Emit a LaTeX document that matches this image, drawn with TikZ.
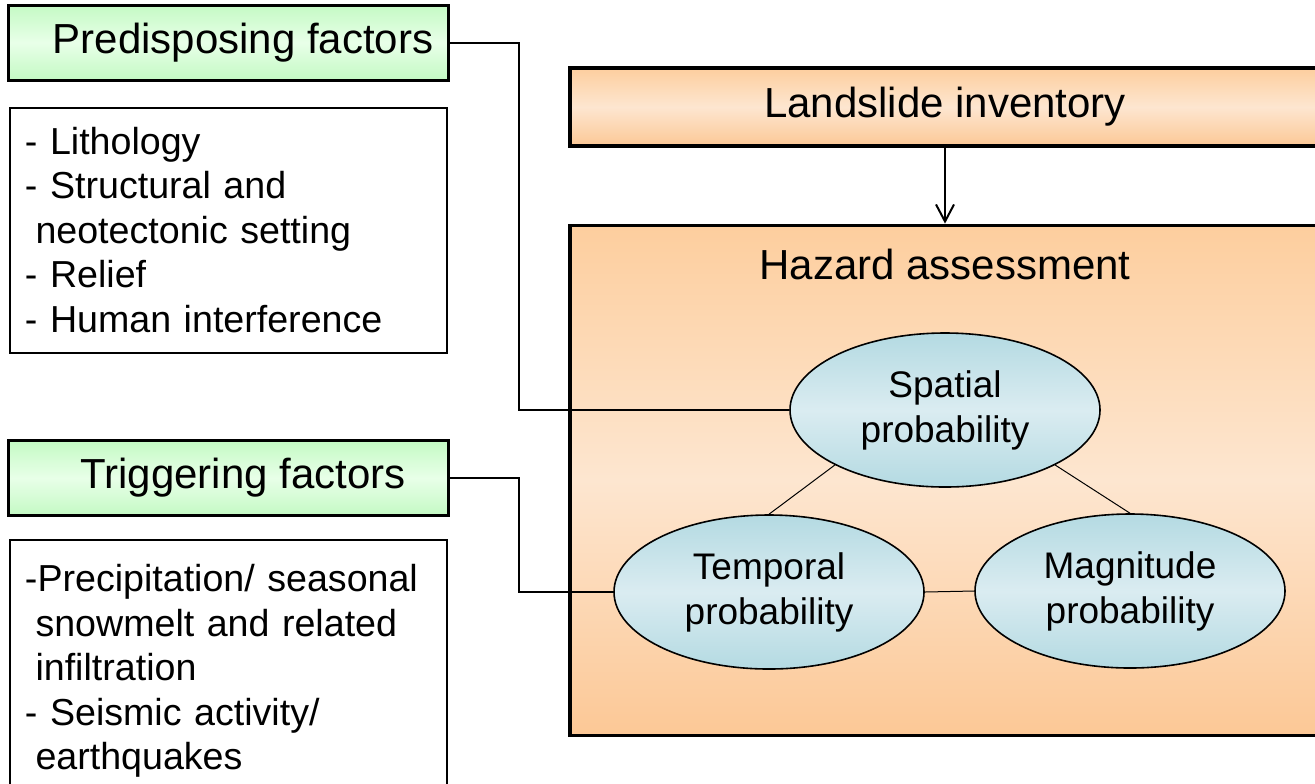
\documentclass[tikz,border=0pt]{standalone}
\usepackage{fontspec}
\setmainfont{Liberation Sans}
\usetikzlibrary{arrows.meta,positioning,shapes.geometric}
\definecolor{grnTop}{RGB}{196,250,196}
\definecolor{grnMid}{RGB}{232,255,232}
\definecolor{orgTop}{RGB}{253,206,158}
\definecolor{orgMid}{RGB}{253,230,208}
\definecolor{orgBot}{RGB}{252,200,150}
\definecolor{ellTop}{RGB}{180,218,226}
\definecolor{ellMid}{RGB}{218,236,241}

\begin{document}
\begin{tikzpicture}[
    x=0.5pt, y=-0.5pt,
    titlebox/.style={draw, line width=1.5pt, top color=grnTop, bottom color=grnTop, middle color=grnMid, minimum width=220pt, minimum height=37.5pt, font=\fontsize{21}{25}\selectfont, execute at begin node=\hspace*{15pt}},
    listbox/.style={draw, line width=1pt, fill=white, minimum width=218.5pt, text width=203pt, align=left, inner xsep=7.5pt, font=\fontsize{18.8}{22.25}\selectfont},
    orangebox/.style={draw, line width=1.6pt, top color=orgTop, bottom color=orgBot, middle color=orgMid, minimum width=375pt, font=\fontsize{21}{25}\selectfont},
    probell/.style={ellipse, draw, line width=0.8pt, top color=ellTop, bottom color=ellTop, middle color=ellMid, minimum width=155pt, minimum height=77pt, inner sep=0pt, align=center, font=\fontsize{18.5}{22.5}\selectfont},
    link/.style={line width=1pt},
    tri/.style={line width=0.5pt},
    arr/.style={-{Straight Barb[length=8.5pt, width=9pt]}, line width=1pt},
]
\useasboundingbox (0,0) rectangle (1315,783);
\clip (0,0) rectangle (1315,783);

% Factor boxes
\node (pf) [titlebox] at (228,42.5) {Predisposing factors};
\node (pl) [listbox, minimum height=122.5pt, below=12.5pt of pf] {- Lithology\\- Structural and\\\hspace*{0.28em}neotectonic setting\\- Relief\\- Human interference};
\node (tf) [titlebox] at (228,478) {Triggering factors};
\node (tl) [listbox, minimum height=131pt, below=11pt of tf] {-Precipitation/ seasonal\\\hspace*{0.28em}snowmelt and related\\\hspace*{0.28em}infiltration\\- Seismic activity/\\\hspace*{0.28em}earthquakes};

% Inventory and hazard
\node (li) [orangebox, minimum height=39pt] at (945,107) {Landslide inventory};
\node (hz) [orangebox, minimum height=255pt, below=38pt of li] {};
\node (hzt) [below=12.5pt of hz.north, inner sep=0pt, font=\fontsize{21}{25}\selectfont] {Hazard assessment};

% Probabilities
\node (sp) [probell] at (945,410) {Spatial\\probability};
\node (tp) [probell] at (769,592) {Temporal\\probability};
\node (mg) [probell] at (1130,591) {Magnitude\\probability};

% Connectors
\draw[arr] (li) -- (hz);
\draw[link] (pf.east) -- ++(69,0) |- (sp.west);
\draw[link] (tf.east) -- ++(69,0) |- (tp.west);
\draw[tri] (sp.south west) -- (tp.north);
\draw[tri] (sp.south east) -- (mg.north);
\draw[tri] (tp.east) -- (mg.west);
\end{tikzpicture}
\end{document}
